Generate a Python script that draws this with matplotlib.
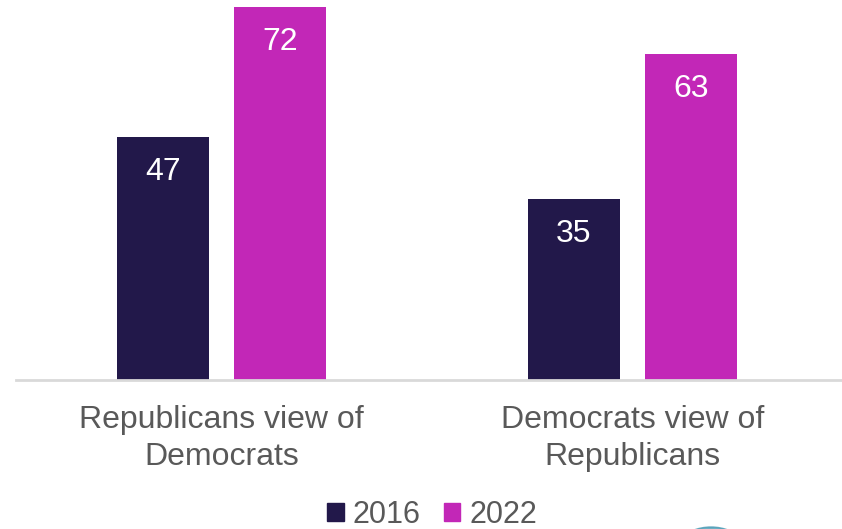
import numpy as np
import matplotlib.pyplot as plt
from matplotlib.patches import Patch, Ellipse

plt.rcParams['font.family'] = ['Liberation Sans', 'DejaVu Sans']

# data
categories = ['Republicans view of\nDemocrats', 'Democrats view of\nRepublicans']
years = ['2016', '2022']
vals_2016 = [47, 35]
vals_2022 = [72, 63]

c16 = '#22184A'
c22 = '#C227B7'
grey = '#595959'

fig = plt.figure(figsize=(8.42, 5.29), dpi=100)
ax = fig.add_axes([16 / 842, 1 - 380 / 529, 1 - 16 / 842, 380 / 529])

x = np.arange(len(categories))
w = 0.224
off = 0.1423
b1 = ax.bar(x - off, vals_2016, w, color=c16)
b2 = ax.bar(x + off, vals_2022, w, color=c22)

for bars in (b1, b2):
    for b in bars:
        h = b.get_height()
        ax.text(b.get_x() + b.get_width() / 2, h - 6.8, str(h), ha='center', va='center',
                color='white', fontsize=23)

ax.set_xlim(-0.5, 1.51)
ax.set_ylim(0, 73.35)
ax.set_yticks([])
ax.set_xticks(x)
ax.set_xticklabels(categories, fontsize=23, color=grey, linespacing=1.3)
ax.tick_params(axis='x', length=0, pad=18)
for s in ['top', 'right', 'left']:
    ax.spines[s].set_visible(False)
ax.spines['bottom'].set_color('#D9D9D9')
ax.spines['bottom'].set_linewidth(2)

handles = [Patch(color=c16), Patch(color=c22)]
fig.legend(handles, years, loc='center', bbox_to_anchor=(432 / 842, 1 - 515 / 529),
           ncol=2, frameon=False, fontsize=22, handlelength=0.55, handleheight=0.55,
           handletextpad=0.3, columnspacing=0.75, labelcolor=grey, borderpad=0)

# partial logo at the bottom edge
fig.patches.append(Ellipse((711 / 842, 1 - 577 / 529), 100 / 842, 100 / 529,
                           transform=fig.transFigure, color='#4A9BB5', alpha=0.8, zorder=0))

fig.savefig('out.png', dpi=100)
